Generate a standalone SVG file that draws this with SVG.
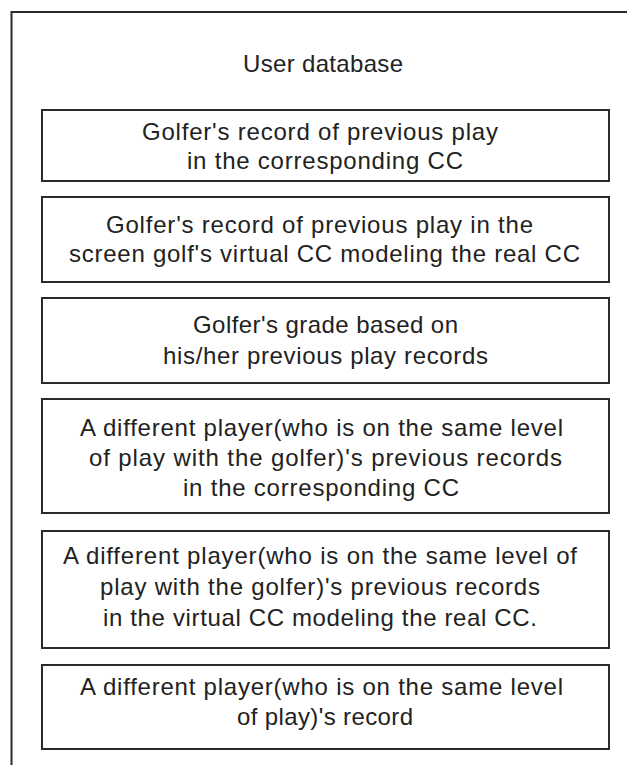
<svg xmlns="http://www.w3.org/2000/svg" width="627" height="765" viewBox="0 0 627 765">
  <style>
    .frame { fill: none; stroke: #2b2b2b; stroke-width: 2; }
    .box { fill: #ffffff; stroke: #2b2b2b; stroke-width: 2; }
    .lbl { font-family: "Liberation Sans", Arial, sans-serif; font-size: 24px; fill: #222222; }
  </style>
  <rect width="627" height="765" fill="#ffffff"/>

  <!-- database container (left and top edges) -->
  <g id="container">
    <path class="frame" d="M11.5,765 V12 H627"/>
    <text class="lbl" x="243" y="72" textLength="160" lengthAdjust="spacing">User database</text>
  </g>

  <g id="record-real-cc">
    <rect class="box" x="42" y="110" width="567" height="71"/>
    <text class="lbl" x="142" y="140" textLength="356" lengthAdjust="spacing">Golfer's record of previous play</text>
    <text class="lbl" x="187" y="169" textLength="276" lengthAdjust="spacing">in the corresponding CC</text>
  </g>

  <g id="record-virtual-cc">
    <rect class="box" x="42" y="197" width="567" height="85"/>
    <text class="lbl" x="106" y="233" textLength="427" lengthAdjust="spacing">Golfer's record of previous play in the</text>
    <text class="lbl" x="69" y="262" textLength="511" lengthAdjust="spacing">screen golf's virtual CC modeling the real CC</text>
  </g>

  <g id="golfer-grade">
    <rect class="box" x="42" y="298" width="567" height="85"/>
    <text class="lbl" x="193" y="333" textLength="265" lengthAdjust="spacing">Golfer's grade based on</text>
    <text class="lbl" x="163" y="364" textLength="325" lengthAdjust="spacing">his/her previous play records</text>
  </g>

  <g id="peer-record-real-cc">
    <rect class="box" x="42" y="399" width="567" height="114"/>
    <text class="lbl" x="80" y="436" textLength="483" lengthAdjust="spacing">A different player(who is on the same level</text>
    <text class="lbl" x="89" y="466" textLength="473" lengthAdjust="spacing">of play with the golfer)'s previous records</text>
    <text class="lbl" x="183" y="496" textLength="276" lengthAdjust="spacing">in the corresponding CC</text>
  </g>

  <g id="peer-record-virtual-cc">
    <rect class="box" x="42" y="531" width="567" height="117"/>
    <text class="lbl" x="63" y="564" textLength="514" lengthAdjust="spacing">A different player(who is on the same level of</text>
    <text class="lbl" x="100" y="595" textLength="440" lengthAdjust="spacing">play with the golfer)'s previous records</text>
    <text class="lbl" x="103" y="626" textLength="434" lengthAdjust="spacing">in the virtual CC modeling the real CC.</text>
  </g>

  <g id="peer-record">
    <rect class="box" x="42" y="665" width="567" height="84"/>
    <text class="lbl" x="80" y="695" textLength="483" lengthAdjust="spacing">A different player(who is on the same level</text>
    <text class="lbl" x="237" y="725" textLength="176" lengthAdjust="spacing">of play)'s record</text>
  </g>

  <!-- no connectors in this diagram -->
  <g id="connectors"/>
</svg>
